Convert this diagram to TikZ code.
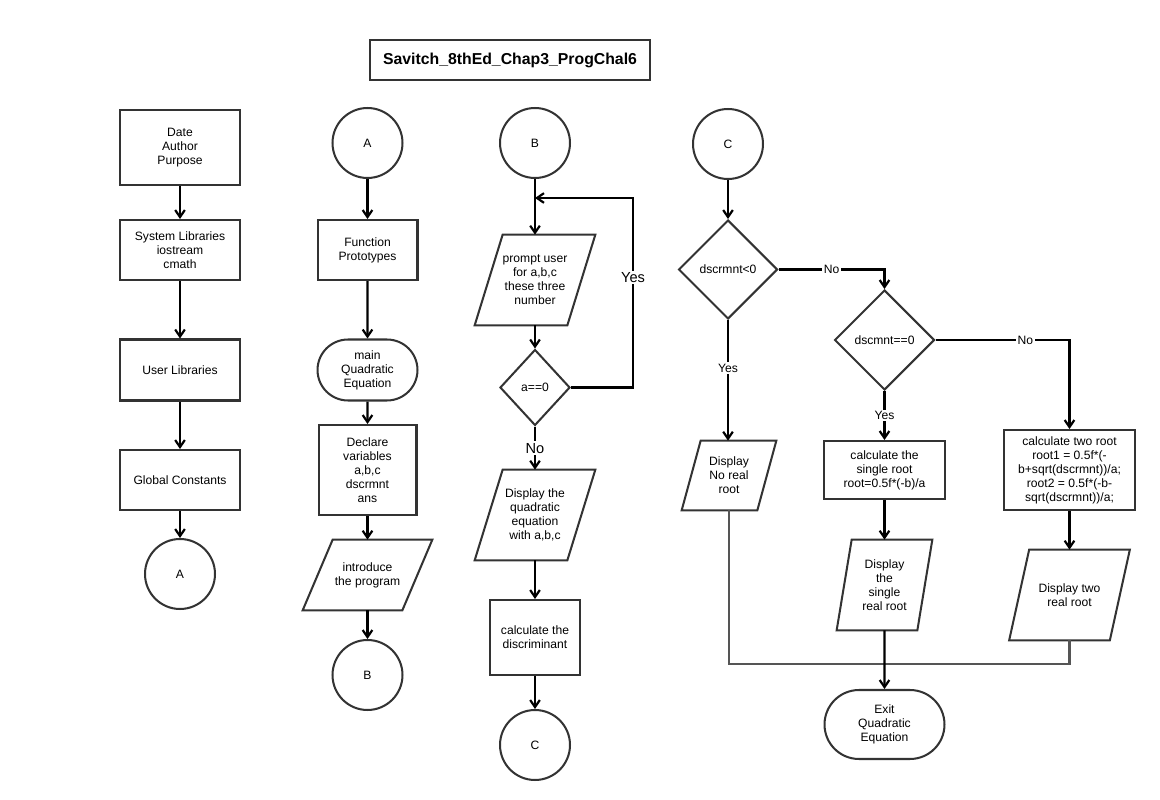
\documentclass[tikz,border=0pt]{standalone}
\usepackage{fontspec}
\setmainfont{Liberation Sans}
\usetikzlibrary{shapes.geometric,shapes.misc,arrows.meta,calc}
\definecolor{edge}{HTML}{333333}
\definecolor{merge}{HTML}{555555}
% slanted input/output box drawn around a plain text node: #1 node, #2 horizontal slant
\newcommand\slantbox[2]{%
  \draw[draw=edge,line width=1.15pt,line join=miter]
    ($(#1.north west)+(0.5*#2,0)$) -- ($(#1.north east)+(0.5*#2,0)$) --
    ($(#1.south east)-(0.5*#2,0)$) -- ($(#1.south west)-(0.5*#2,0)$) -- cycle;}
\begin{document}
\begin{tikzpicture}[x=0.02cm,y=-0.02cm,
  txt/.style={font=\fontsize{6.9}{8}\selectfont, align=center},
  base/.style={txt, draw=edge, line width=1.15pt, inner sep=0pt},
  proc/.style={base, rectangle},
  term/.style={base, rounded rectangle},
  conn/.style={base, circle, minimum size=1.4cm},
  decide/.style={base, diamond},
  io/.style={txt, inner sep=0pt},
  flow/.style={line width=1.25pt, -{Straight Barb[length=4pt,width=5.5pt]}},
  tie/.style={draw=merge, line width=1.4pt},
  lbl/.style={fill=white, inner sep=1pt, font=\fontsize{6.9}{8}\selectfont},
  biglbl/.style={lbl, font=\fontsize{8.3}{9}\selectfont},
]
\useasboundingbox (0,0) rectangle (1160,800);
\fill[white] (0,0) rectangle (1160,800);

% title
\node[proc, minimum width=5.6cm, minimum height=0.8cm,
      font=\bfseries\fontsize{9}{10}\selectfont] (title) at (510,60)
      {Savitch\_8thEd\_Chap3\_ProgChal6};

% column 1: program header
\node[proc, minimum width=2.4cm, minimum height=1.5cm] (info) at (180,147.5) {Date\\Author\\Purpose};
\node[proc, minimum width=2.4cm, minimum height=1.2cm] (syslib) at (180,250) {System Libraries\\iostream\\cmath};
\node[proc, minimum width=2.4cm, minimum height=1.22cm] (usrlib) at (180,370) {User Libraries};
\node[proc, minimum width=2.4cm, minimum height=1.2cm] (glob) at (180,480) {Global Constants};
\node[conn] (A1) at (180,574) {A};

% column 2: prototypes and main
\node[conn] (A2) at (367.5,143) {A};
\node[proc, minimum width=2cm, minimum height=1.2cm] (proto) at (367.5,250) {Function\\Prototypes};
\node[term, minimum width=2cm, minimum height=1.22cm] (mainq) at (367.5,370) {main\\Quadratic\\Equation};
\node[proc, minimum width=1.96cm, minimum height=1.8cm] (decl) at (367.5,470) {Declare\\variables\\a,b,c\\dscrmnt\\ans};
\node[io, minimum width=1.98cm, minimum height=1.4cm] (intro) at (367.5,575) {introduce\\the program};
\slantbox{intro}{30}
\node[conn] (B2) at (367.5,675) {B};

% column 3: input and discriminant
\node[conn] (B1) at (535,143) {B};
\coordinate (loopin) at (535,198);
\node[io, minimum width=1.84cm, minimum height=1.8cm] (prompt) at (535,280) {prompt user\\for a,b,c\\these three\\number};
\slantbox{prompt}{28}
\node[decide, minimum width=1.4cm, minimum height=1.52cm] (aeq) at (535,387.5) {a==0};
\node[io, minimum width=1.84cm, minimum height=1.8cm] (showq) at (535,515) {Display the\\quadratic\\equation\\with a,b,c};
\slantbox{showq}{28}
\node[proc, minimum width=1.8cm, minimum height=1.5cm] (disc) at (535,637.5) {calculate the\\discriminant};
\node[conn] (C1) at (535,745) {C};

% column 4: roots
\node[conn] (C2) at (728,144) {C};
\node[decide, minimum width=1.98cm, minimum height=1.98cm] (neg) at (728,269.5) {dscrmnt<0};
\node[decide, minimum width=2cm, minimum height=2cm] (zero) at (884.5,340) {dscmnt==0};
\node[io, minimum width=1.5cm, minimum height=1.38cm] (noreal) at (729,475.5) {Display\\No real\\root};
\slantbox{noreal}{19}
\node[proc, minimum width=2.42cm, minimum height=1.16cm] (one) at (884.5,470) {calculate the\\single root\\root=0.5f*(-b)/a};
\node[io, minimum width=1.6cm, minimum height=1.8cm] (showone) at (884.5,585) {Display\\the\\single\\real root};
\slantbox{showone}{15}
\node[proc, minimum width=2.62cm, minimum height=1.6cm] (two) at (1069.5,470) {calculate two root\\root1 = 0.5f*(-\\b+sqrt(dscrmnt))/a;\\root2 = 0.5f*(-b-\\sqrt(dscrmnt))/a;};
\node[io, minimum width=2cm, minimum height=1.8cm] (showtwo) at (1069.5,595) {Display two\\real root};
\slantbox{showtwo}{20}
\node[term, minimum width=2.4cm, minimum height=1.38cm] (exitq) at (884.5,724.5) {Exit\\Quadratic\\Equation};
\coordinate (mergeR) at (1069.5,664);

% connectors
\draw[flow] (info) -- (syslib);
\draw[flow] (syslib) -- (usrlib);
\draw[flow] (usrlib) -- (glob);
\draw[flow] (glob) -- (A1);

\draw[flow] (A2) -- (proto);
\draw[flow] (proto) -- (mainq);
\draw[flow] (mainq) -- (decl);
\draw[flow] (decl) -- (intro);
\draw[flow] (intro) -- (B2);

\draw[flow] (B1) -- (prompt);
\draw[flow] (prompt) -- (aeq);
\draw[flow] (aeq.east) -- ++(62,0) |- (loopin) node[pos=0.29, biglbl] {Yes};
\draw[flow] (aeq) -- (showq) node[midway, biglbl] {No};
\draw[flow] (showq) -- (disc);
\draw[flow] (disc) -- (C1);

\draw[flow] (C2) -- (neg);
\draw[flow] (neg.east) -| (zero.north) node[pos=0.25, lbl] {No};
\draw[flow] (neg) -- (neg |- noreal.north) node[pos=0.4, lbl] {Yes};
\draw[flow] (zero.east) -| (two.north) node[pos=0.335, lbl] {No};
\draw[flow] (zero) -- (one) node[midway, lbl] {Yes};
\draw[flow] (one) -- (showone);
\draw[flow] (two) -- (showtwo);
\draw[tie] (noreal.south) |- (mergeR) -- (showtwo.south);
\draw[flow] (showone) -- (exitq);
\end{tikzpicture}
\end{document}
